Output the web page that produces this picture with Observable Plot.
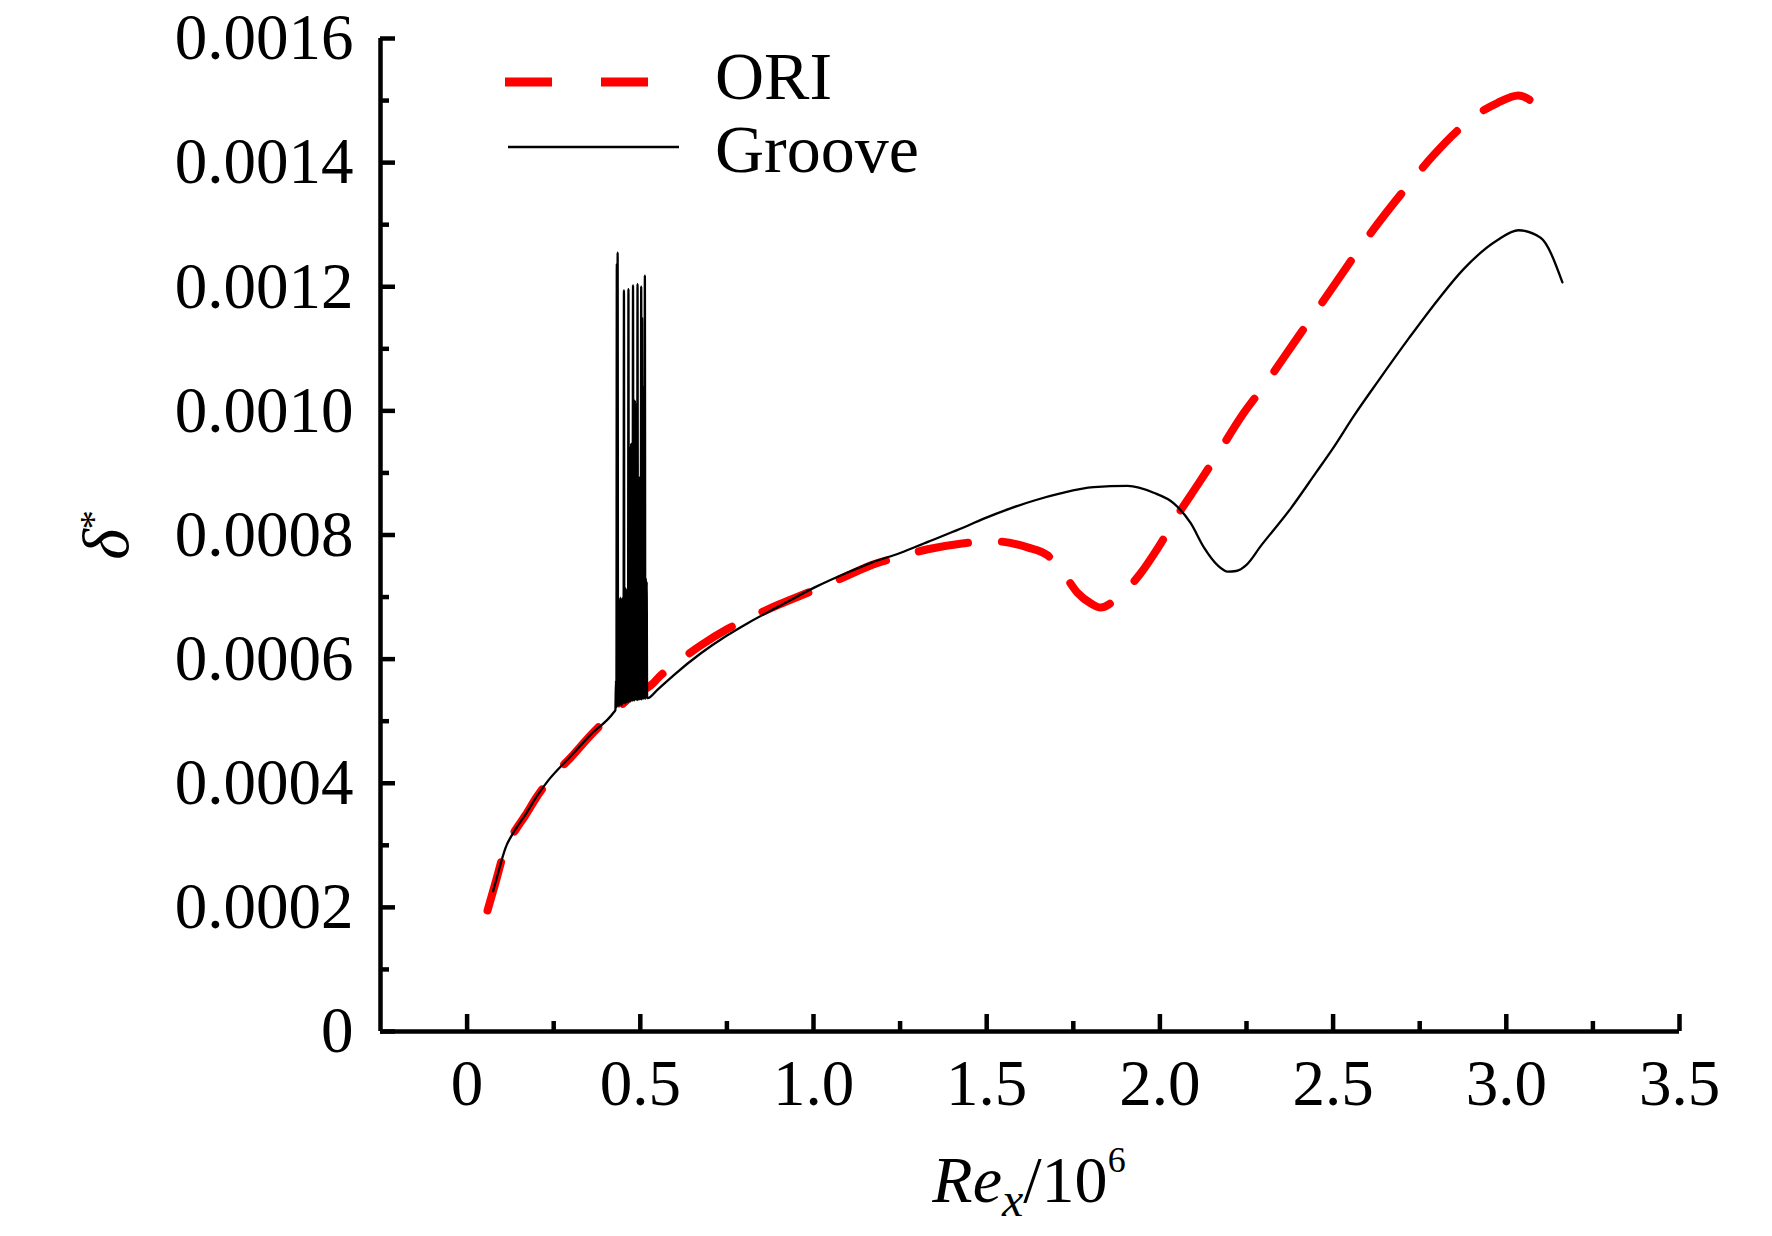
<!DOCTYPE html>
<html>
<head>
<meta charset="utf-8">
<script src="https://cdn.jsdelivr.net/npm/d3@7"></script>
<script src="https://cdn.jsdelivr.net/npm/@observablehq/plot@0.6"></script>
<style>
  html, body { margin: 0; padding: 0; background: #fff; }
  #chart svg { display: block; }
</style>
</head>
<body>
<div id="chart"></div>
<script>
// ---- Data ----
const seriesNames = ["ORI", "Groove"];

const oriX = [0.059, 0.082, 0.111, 0.14, 0.168, 0.2, 0.235, 0.3, 0.356, 0.423, 0.47, 0.535, 0.552, 0.607, 0.674, 0.75, 0.81, 0.9, 1.005, 1.1, 1.17, 1.25, 1.33, 1.424, 1.52, 1.618, 1.676, 1.722, 1.762, 1.8, 1.829, 1.878, 1.944, 1.993, 2.059, 2.108, 2.155, 2.24, 2.3, 2.4, 2.5, 2.6, 2.7, 2.79, 2.86, 2.917, 2.974, 3.035, 3.065, 3.105];
const oriY = [0.000195, 0.00024, 0.000296, 0.000325, 0.000348, 0.000377, 0.000404, 0.000442, 0.000477, 0.000514, 0.000538, 0.00056, 0.00057, 0.000595, 0.000622, 0.000648, 0.000665, 0.000688, 0.000712, 0.000735, 0.000752, 0.000765, 0.000777, 0.000786, 0.00079, 0.00078, 0.000767, 0.000738, 0.000707, 0.00069, 0.000683, 0.000699, 0.000738, 0.000778, 0.000839, 0.00088, 0.00092, 0.000995, 0.00104, 0.00112, 0.0012, 0.00128, 0.001352, 0.001412, 0.001452, 0.001478, 0.001496, 0.001508, 0.001502, 0.001477];

// Groove: smooth part before the oscillation burst
const grooveX1 = [0.075, 0.082, 0.111, 0.14, 0.168, 0.2, 0.235, 0.3, 0.356, 0.423];
const grooveY1 = [0.000226, 0.00024, 0.000296, 0.000326, 0.000349, 0.000378, 0.000405, 0.000444, 0.000478, 0.000514];

// Groove: oscillation burst around Re_x = 0.43 - 0.52
const burstX = [0.4280, 0.4298, 0.4310, 0.4322, 0.4334, 0.4346, 0.4358, 0.4372, 0.4385, 0.4398, 0.4411, 0.4424, 0.4437, 0.4450, 0.4463, 0.4476, 0.4489, 0.4502, 0.4515, 0.4528, 0.4541, 0.4554, 0.4567, 0.4580, 0.4593, 0.4606, 0.4619, 0.4632, 0.4645, 0.4658, 0.4671, 0.4684, 0.4697, 0.4710, 0.4723, 0.4736, 0.4749, 0.4762, 0.4775, 0.4790, 0.4803, 0.4816, 0.4829, 0.4842, 0.4855, 0.4868, 0.4881, 0.4894, 0.4907, 0.4920, 0.4933, 0.4946, 0.4959, 0.4972, 0.4985, 0.4998, 0.5011, 0.5026, 0.5039, 0.5052, 0.5065, 0.5078, 0.5091, 0.5104, 0.5117, 0.5132, 0.5145, 0.5158, 0.5171, 0.5184, 0.5197, 0.5210];
const burstY = [0.000518, 0.000566, 0.000522, 0.001237, 0.000524, 0.001255, 0.000525, 0.000697, 0.000523, 0.000690, 0.000526, 0.000699, 0.000527, 0.000694, 0.000525, 0.000698, 0.000528, 0.000688, 0.000529, 0.001194, 0.000530, 0.000710, 0.000528, 0.000714, 0.000531, 0.000708, 0.000530, 0.000713, 0.000532, 0.001196, 0.000531, 0.000942, 0.000533, 0.000936, 0.000532, 0.000947, 0.000534, 0.000930, 0.000533, 0.001202, 0.000534, 0.001010, 0.000533, 0.001017, 0.000535, 0.000998, 0.000534, 0.001012, 0.000535, 0.001204, 0.000534, 0.000885, 0.000536, 0.000893, 0.000535, 0.000880, 0.000536, 0.001200, 0.000535, 0.001150, 0.000537, 0.001040, 0.000536, 0.001020, 0.000537, 0.001218, 0.000536, 0.000731, 0.000538, 0.000725, 0.000537, 0.000537];

// Groove: smooth part after the burst
const grooveX2 = [0.55, 0.596, 0.674, 0.75, 0.81, 0.9, 1.005, 1.1, 1.17, 1.25, 1.33, 1.424, 1.49, 1.569, 1.64, 1.713, 1.809, 1.907, 1.982, 2.04, 2.089, 2.127, 2.167, 2.196, 2.22, 2.25, 2.291, 2.378, 2.45, 2.5, 2.56, 2.63, 2.72, 2.804, 2.876, 2.974, 3.035, 3.099, 3.162];
const grooveY2 = [0.000551, 0.000574, 0.000609, 0.000638, 0.000658, 0.000685, 0.000716, 0.00074, 0.000756, 0.000771, 0.000789, 0.00081, 0.000826, 0.000843, 0.000856, 0.000867, 0.000877, 0.000879, 0.000868, 0.000851, 0.000819, 0.00078, 0.000751, 0.000741, 0.000742, 0.000752, 0.000782, 0.000843, 0.0009, 0.00094, 0.000992, 0.001048, 0.001118, 0.00118, 0.001228, 0.001275, 0.001291, 0.001279, 0.001207];

// Axis ticks and labels
const xMajor = [0, 0.5, 1.0, 1.5, 2.0, 2.5, 3.0, 3.5];
const xLabels = ["0", "0.5", "1.0", "1.5", "2.0", "2.5", "3.0", "3.5"];
const xMinor = [0.25, 0.75, 1.25, 1.75, 2.25, 2.75, 3.25];
const yMajor = [0, 0.0002, 0.0004, 0.0006, 0.0008, 0.0010, 0.0012, 0.0014, 0.0016];
const yLabels = ["0", "0.0002", "0.0004", "0.0006", "0.0008", "0.0010", "0.0012", "0.0014", "0.0016"];
const yMinor = [0.0001, 0.0003, 0.0005, 0.0007, 0.0009, 0.0011, 0.0013, 0.0015];

// ---- Build tables ----
const ori = oriX.map((x, i) => ({x, y: oriY[i]}));
const grooveXAll = grooveX1.concat(burstX, grooveX2);
const grooveYAll = grooveY1.concat(burstY, grooveY2);
const groove = grooveXAll.map((x, i) => ({x, y: grooveYAll[i]}));

const W = 1772, H = 1236;
const FONT = "'Liberation Serif', 'Times New Roman', serif";

const plot = Plot.plot({
  width: W,
  height: H,
  marginLeft: 380,
  marginRight: 93,
  marginTop: 38,
  marginBottom: 205,
  x: {domain: [-0.25, 3.5]},
  y: {domain: [0, 0.0016]},
  style: {fontFamily: FONT, fontSize: "65px", color: "black", background: "white"},
  marks: [
    Plot.line(ori, {x: "x", y: "y", stroke: "#ff0000", strokeWidth: 8, strokeDasharray: "50,34", strokeLinecap: "round", curve: "monotone-x"}),
    Plot.line(groove, {x: "x", y: "y", stroke: "#000", strokeWidth: 2.3, curve: "monotone-x"}),
    Plot.ruleX([-0.25], {stroke: "#000", strokeWidth: 4.5}),
    Plot.ruleY([0], {stroke: "#000", strokeWidth: 4.5}),
    Plot.axisX(xMajor, {tickSize: -17, strokeWidth: 4.5, tickFormat: () => "", label: null}),
    Plot.axisX(xMinor, {tickSize: -10, strokeWidth: 4.5, tickFormat: () => "", label: null}),
    Plot.axisX(xMajor, {tickSize: 0, tickPadding: 27, tickFormat: d => xLabels[xMajor.indexOf(d)], label: null, fontSize: 65}),
    Plot.axisY(yMajor, {tickSize: -15, strokeWidth: 4.5, tickFormat: () => "", label: null}),
    Plot.axisY(yMinor, {tickSize: -9, strokeWidth: 4.5, tickFormat: () => "", label: null}),
    Plot.axisY(yMajor, {tickSize: 0, tickPadding: 27, tickFormat: d => yLabels[yMajor.indexOf(d)], label: null, fontSize: 65})
  ]
});

const svg = d3.select(plot);

// Legend
const leg = svg.append("g").attr("class", "legend");
leg.append("line").attr("x1", 505).attr("x2", 649).attr("y1", 82).attr("y2", 82)
  .attr("stroke", "#ff0000").attr("stroke-width", 9).attr("stroke-dasharray", "47,49");
leg.append("line").attr("x1", 508).attr("x2", 679).attr("y1", 147).attr("y2", 147)
  .attr("stroke", "#000").attr("stroke-width", 2.5);
leg.append("text").attr("x", 715).attr("y", 99).attr("text-anchor", "start")
  .attr("font-family", FONT).attr("font-size", 68).attr("fill", "#000").text(seriesNames[0]);
leg.append("text").attr("x", 715).attr("y", 172).attr("text-anchor", "start")
  .attr("font-family", FONT).attr("font-size", 68).attr("fill", "#000").text(seriesNames[1]);

// X axis title: Re_x/10^6
const xt = svg.append("text").attr("x", 1029).attr("y", 1202).attr("text-anchor", "middle")
  .attr("font-family", FONT).attr("font-size", 66).attr("fill", "#000");
xt.append("tspan").attr("font-style", "italic").text("Re");
xt.append("tspan").attr("font-style", "italic").attr("font-size", 48).attr("dy", 14).text("x");
xt.append("tspan").attr("dy", -14).text("/10");
xt.append("tspan").attr("font-size", 36).attr("dy", -30).text("6");

// Y axis title: δ*
const yt = svg.append("text").attr("transform", "translate(128,535) rotate(-90)").attr("text-anchor", "middle")
  .attr("font-family", FONT).attr("font-size", 66).attr("fill", "#000");
yt.append("tspan").attr("font-style", "italic").text("δ");
yt.append("tspan").attr("font-size", 38).attr("dy", -22).text("*");

document.getElementById("chart").appendChild(plot);
</script>
</body>
</html>
